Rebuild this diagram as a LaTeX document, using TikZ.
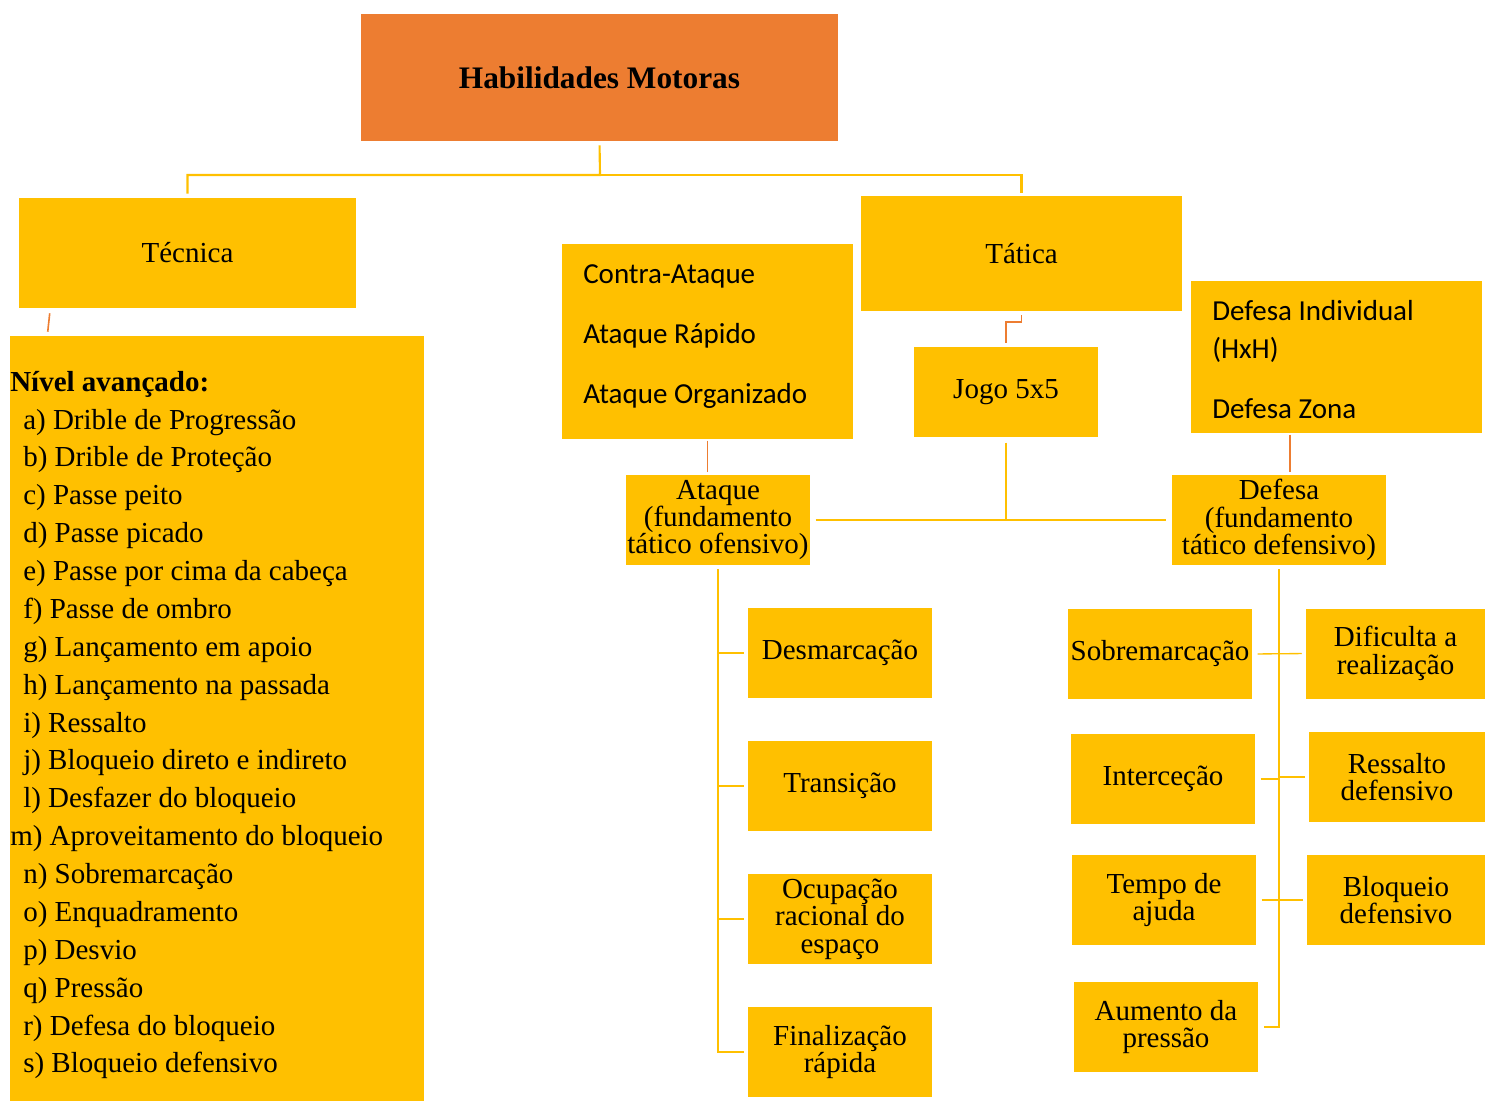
\documentclass[tikz,border=0pt]{standalone}
\usepackage{fontspec}
\setmainfont{Liberation Serif}
\newfontfamily\carl{Carlito}
\usetikzlibrary{calc}
\definecolor{gold}{HTML}{FFC000}
\definecolor{orng}{HTML}{ED7D31}
\newcommand\fs{\fontsize{21.75}{20.5}\selectfont}
\begin{document}
\begin{tikzpicture}[x=0.75pt,y=-0.75pt,
  box/.style={fill=gold, inner sep=0pt, align=center, font=\fs},
  kid/.style={box, minimum width=138pt, minimum height=67.5pt},
  lst/.style={anchor=base west, inner sep=0pt, font=\fs},
  sl/.style={anchor=base west, inner sep=0pt, font=\carl\fs},
  yl/.style={draw=gold, line width=1.6pt},
  ylt/.style={draw=gold, line width=1pt},
  orl/.style={draw=orng, line width=1.2pt}]
\useasboundingbox (0,0) rectangle (1485,1101);

% boxes
\node[box, fill=orng, minimum width=357.75pt, minimum height=95.25pt,
      font=\fontsize{23.5}{28}\selectfont\bfseries] (top) at (599.5,77.5) {Habilidades Motoras};
\node[box, minimum width=252.75pt, minimum height=82.5pt] (tec) at (187.5,253) {Técnica};
\node[box, minimum width=310.5pt, minimum height=573.75pt] (niv) at (217,718.5) {};
\node[box, minimum width=218.25pt, minimum height=146.25pt] (contra) at (707.5,341.5) {};
\node[box, minimum width=240.75pt, minimum height=86.25pt] (tat) at (1021.5,253.5) {Tática};
\node[box, minimum width=138pt, minimum height=67.5pt] (jogo) at (1006,392) {Jogo 5x5};
\node[box, minimum width=218.25pt, minimum height=114pt] (defind) at (1336.5,357) {};
\node[box, minimum width=138pt, minimum height=67.5pt] (atq) at (718,520) {Ataque\\(fundamento\\tático ofensivo)};
\node[box, minimum width=160.5pt, minimum height=67.5pt] (dfs) at (1279,520) {Defesa\\(fundamento\\tático defensivo)};

\node[kid] (desm) at (840,653) {Desmarcação};
\node[kid] (tran) at (840,786) {Transição};
\node[kid] (ocup) at (840,919) {Ocupação\\racional do\\espaço};
\node[kid] (fin) at (840,1052) {Finalização\\rápida};
\node[kid] (sobre) at (1160,654) {Sobremarcação};
\node[kid] (inter) at (1163,779) {Interceção};
\node[kid] (tempo) at (1164,900) {Tempo de\\ajuda};
\node[kid] (aum) at (1166,1027) {Aumento da\\pressão};
\node[kid, minimum width=134.25pt] (dif) at (1395.5,653.5) {Dificulta a\\realização};
\node[kid, minimum width=132pt] (ress) at (1397,777) {Ressalto\\defensivo};
\node[kid, minimum width=133.5pt] (bloq) at (1396,900) {Bloqueio\\defensivo};

% left list
\node[lst, font=\fs\bfseries] (nivt) at (10,391) {Nível avançado:};
\foreach \xx/\t [count=\i from 0] in {
  23/a) Drible de Progressão, 23/b) Drible de Proteção, 23/c) Passe peito,
  23/d) Passe picado, 23/e) Passe por cima da cabeça, 23/f) Passe de ombro,
  23/g) Lançamento em apoio, 23/h) Lançamento na passada, 23/i) Ressalto,
  23/j) Bloqueio direto e indireto, 23/l) Desfazer do bloqueio,
  10/m) Aproveitamento do bloqueio, 23/n) Sobremarcação, 23/o) Enquadramento,
  23/p) Desvio, 23/q) Pressão, 23/r) Defesa do bloqueio, 23/s) Bloqueio defensivo}
  {\node[lst] (it\i) at (\xx,{429+37.88*\i}) {\t};}

% sans lines
\node[sl] (c1) at (583,283) {Contra-Ataque};
\node[sl] (c2) at (583,343) {Ataque Rápido};
\node[sl] (c3) at (583,403) {Ataque Organizado};
\node[sl] (d1) at (1212,320) {Defesa Individual};
\node[sl] (d2) at (1212,358) {(HxH)};
\node[sl] (d3) at (1212,418) {Defesa Zona};

% connectors
\coordinate (hub) at (600,175);
\draw[yl, shorten <=3pt, shorten >=3pt] (top.south) -- (hub) -| (tec.north);
\draw[yl, shorten >=2pt] (hub) -| (tat.north);
\draw[orl] ($(tec.south west)+(31,5)$) -- ($(niv.north west)+(38,-4)$);
\draw[orl, shorten <=3pt, shorten >=3pt] (tat.south) -- ++(0,11) -| (jogo.north);
\draw[orl, shorten <=1pt, shorten >=2pt] (contra.south) -- (contra.south |- atq.north);
\coordinate (dx) at ($(dfs.north)+(11,0)$);
\draw[orl, shorten <=1pt, shorten >=2pt] (dx |- defind.south) -- (dx);

\draw[ylt, shorten <=4pt, shorten >=4pt] (atq.east) -- (dfs.west);
\draw[ylt, shorten <=4pt] (jogo.south) -- (jogo.south |- atq.east);
\draw[ylt, shorten <=3pt, shorten >=3pt] (atq.south) |- (fin.west);
\foreach \n in {desm,tran,ocup} \draw[ylt, shorten >=3pt] (\n.west -| atq.south) -- (\n.west);
\draw[ylt, shorten <=3pt, shorten >=4pt] (dfs.south) |- (aum.east);
\draw[ylt, shorten <=4pt, shorten >=3pt] (sobre.east) -- (dif.west);
\draw[ylt, shorten <=4pt] (inter.east) -- (inter.east -| dfs.south);
\draw[ylt, shorten <=3pt] (ress.west) -- (ress.west -| dfs.south);
\draw[ylt, shorten <=4pt, shorten >=3pt] (tempo.east) -- (bloq.west);
\end{tikzpicture}
\end{document}
